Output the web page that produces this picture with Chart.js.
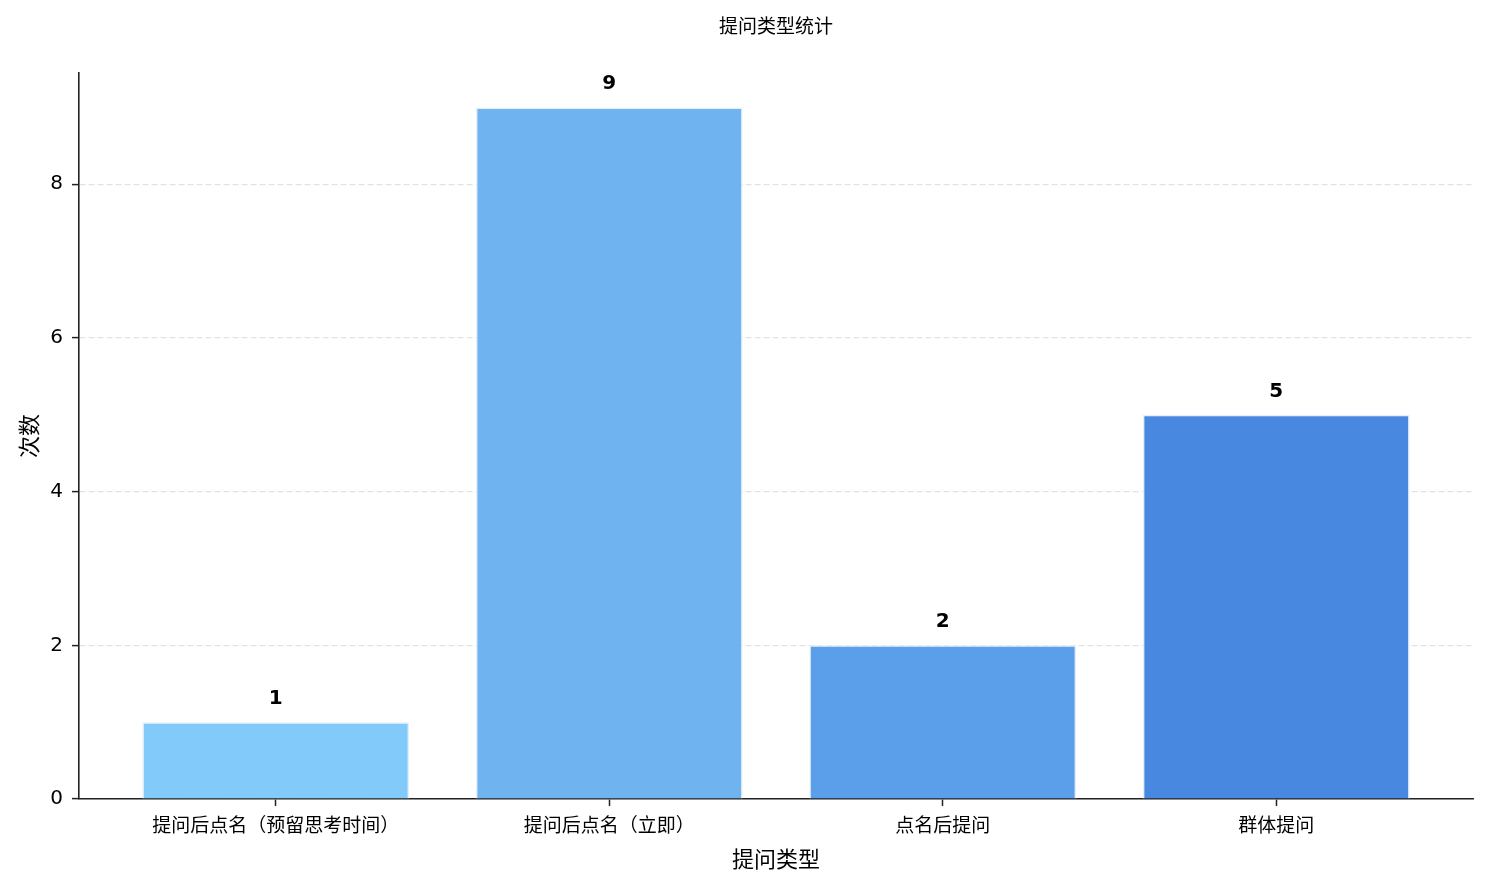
<!DOCTYPE html>
<html lang="zh">
<head>
    <meta charset="UTF-8">
    <title>提问类型统计</title>
    <script src="https://cdn.jsdelivr.net/npm/chart.js"></script>
    <style>
        html, body { margin: 0; padding: 0; background: #fff; }
        #wrap { width: 1488px; height: 889px; position: relative; }
    </style>
</head>
<body>
    <div id="wrap"><canvas id="chart"></canvas></div>

    <script>
        // 数据
        const categories = ['提问后点名（预留思考时间）', '提问后点名（立即）', '点名后提问', '群体提问'];
        const counts = [1, 9, 2, 5];
        const barColors = ['#81caf9', '#6fb4f1', '#5b9ee9', '#4988e0'];
        const yTicks = [0, 2, 4, 6, 8];

        const cjk = '"Noto Sans CJK SC", "Noto Sans", sans-serif';
        const latin = '"DejaVu Sans", sans-serif';

        // 柱顶数值标签
        const valueLabels = {
            id: 'valueLabels',
            afterDatasetsDraw(chart) {
                const ctx = chart.ctx;
                const meta = chart.getDatasetMeta(0);
                ctx.save();
                ctx.font = 'bold 20px ' + latin;
                ctx.fillStyle = '#000';
                ctx.textAlign = 'center';
                ctx.textBaseline = 'alphabetic';
                meta.data.forEach(function (bar, i) {
                    ctx.fillText(String(counts[i]), bar.x, bar.y - 18);
                });
                ctx.restore();
            }
        };

        new Chart(document.getElementById('chart'), {
            type: 'bar',
            data: {
                datasets: [{
                    data: counts.map((v, i) => ({ x: i, y: v })),
                    backgroundColor: barColors,
                    borderColor: 'rgba(230,238,250,1)',
                    borderWidth: 1.5,
                    categoryPercentage: 0.8,
                    barPercentage: 1.0
                }]
            },
            options: {
                responsive: true,
                maintainAspectRatio: false,
                animation: false,
                layout: { padding: { left: 0, right: 15, top: 0, bottom: 0 } },
                plugins: {
                    legend: { display: false },
                    tooltip: { enabled: false },
                    title: {
                        display: true,
                        text: '提问类型统计',
                        fullSize: false,
                        color: '#000',
                        font: { family: cjk, size: 19, weight: 'normal' },
                        padding: { top: 14, bottom: 36 }
                    }
                },
                scales: {
                    x: {
                        type: 'linear',
                        offset: false,
                        min: -0.59,
                        max: 3.59,
                        afterBuildTicks: function (scale) {
                            scale.ticks = categories.map((_, i) => ({ value: i }));
                        },
                        afterFit: function (scale) { scale.height = 90; },
                        ticks: {
                            stepSize: 1,
                            includeBounds: false,
                            autoSkip: false,
                            maxRotation: 0,
                            padding: 7,
                            color: '#000',
                            font: { family: cjk, size: 19 },
                            callback: (v) => categories[v] ?? ''
                        },
                        grid: {
                            offset: false,
                            drawOnChartArea: false,
                            drawTicks: true,
                            tickLength: 7,
                            tickColor: '#222',
                            tickWidth: 1.5
                        },
                        border: { display: true, color: '#222', width: 1.6 },
                        title: {
                            display: true,
                            text: '提问类型',
                            color: '#000',
                            font: { family: cjk, size: 22 },
                            padding: { top: 0, bottom: 17 }
                        }
                    },
                    y: {
                        min: 0,
                        max: 9.45,
                        afterBuildTicks: function (scale) {
                            scale.ticks = yTicks.map(v => ({ value: v }));
                        },
                        afterFit: function (scale) { scale.width = 79; },
                        ticks: {
                            padding: 9,
                            color: '#000',
                            font: { family: latin, size: 20 }
                        },
                        grid: {
                            color: '#e2e2e2',
                            lineWidth: 1.2,
                            tickBorderDash: [],
                            tickLength: 7,
                            tickColor: '#222',
                            tickWidth: 1.5
                        },
                        border: { display: true, color: '#222', width: 1.6, dash: [6, 3] },
                        title: {
                            display: true,
                            text: '次数',
                            color: '#000',
                            font: { family: cjk, size: 22 },
                            padding: { top: 15, bottom: 0 }
                        }
                    }
                }
            },
            plugins: [valueLabels]
        });
    </script>
</body>
</html>
